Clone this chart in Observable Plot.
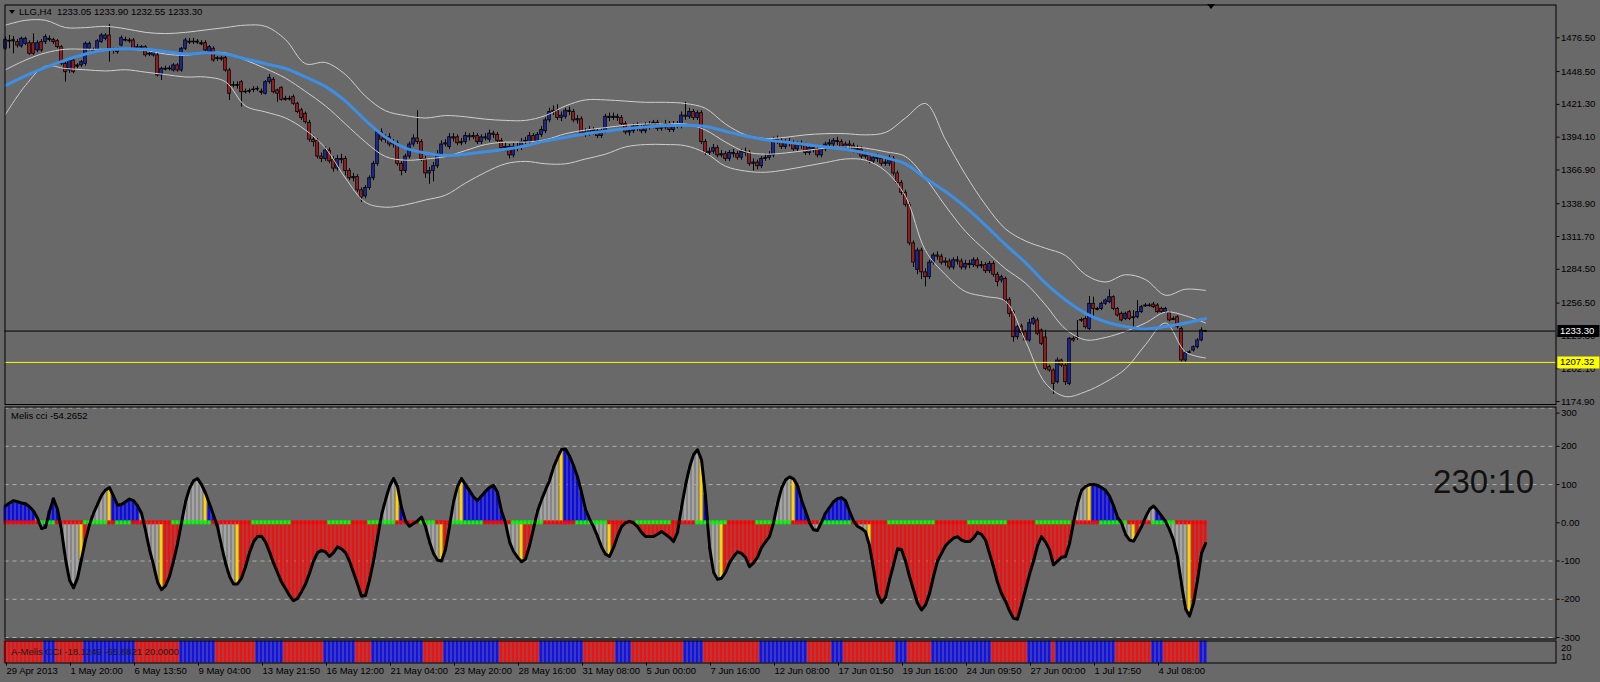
<!DOCTYPE html>
<html><head><meta charset="utf-8">
<script src="https://cdn.jsdelivr.net/npm/d3@7"></script>
<script src="https://cdn.jsdelivr.net/npm/@observablehq/plot@0.6"></script>
<style>
html,body{margin:0;padding:0;background:#696969;}
#wrap{position:relative;width:1600px;height:682px;background:#696969;overflow:hidden;font-family:"Liberation Sans",Arial,sans-serif;}
#wrap svg{position:absolute;left:0;}
#title{position:absolute;left:9px;top:5px;font-size:9.5px;color:#000;white-space:pre;line-height:14px;}
#title .tri{display:inline-block;width:0;height:0;border-left:3.5px solid transparent;border-right:3.5px solid transparent;border-top:4px solid #000;margin-right:4px;vertical-align:1px;}
#shift{position:absolute;left:1207px;top:4px;width:0;height:0;border-left:4px solid transparent;border-right:4px solid transparent;border-top:5px solid #000;}
</style></head><body><div id="wrap"><div id="title"><span class="tri"></span>LLG,H4  1233.05 1233.90 1232.55 1233.30</div><div id="shift"></div></div>
<script>
// ---------- DATA ----------
const open = [1467.4,1473.5,1474.5,1472.9,1469.3,1471.5,1472,1472,1466,1472.9,
1472.9,1475.7,1474.8,1473.7,1468.8,1454.9,1449.4,1457.7,1453.6,1453.6,
1454.9,1467.4,1466,1466,1472.9,1475.7,1478.4,1466,1466.5,1470.1,
1474.3,1474.3,1474.3,1468.8,1468.8,1468.8,1463.2,1461.9,1461.9,1445.3,
1450.8,1450.5,1449.4,1453.6,1449.4,1467.4,1473.3,1472.9,1473.3,1472,
1472,1464.6,1467.4,1459.1,1459.5,1459.9,1449.4,1437,1437.3,1439.7,
1431.4,1432,1433.2,1434.2,1431.8,1430.1,1439.7,1441.7,1432.8,1435,
1425.9,1425.5,1427.3,1421.8,1416.3,1413.5,1406,1392,1391,1378,
1376,1383,1375,1368,1376,1376,1366,1360,1361,1350,
1345,1352,1360,1372,1398,1392,1394,1388,1389,1372,
1366,1378,1388,1393,1390,1376,1364,1366,1370,1380,
1388,1386,1394,1394,1389,1390,1395,1394,1395,1390,
1394,1392,1397,1396,1391,1385,1386,1379,1386,1385,
1390,1390,1395,1390,1396,1399,1408,1415,1416,1410,
1411,1416,1415,1408,1409,1397,1397,1400,1399,1395,
1399,1411,1410,1411,1410,1405,1398,1399,1403,1402,
1399,1404,1403,1406,1401,1402,1405,1400,1404,1403,
1412,1411,1415,1410,1414,1390,1381,1382,1385,1379,
1380,1376,1381,1380,1377,1382,1381,1372,1373,1370,
1376,1377,1379,1392,1391,1386,1390,1389,1384,1388,
1387,1381,1385,1384,1379,1384,1388,1388,1391,1390,
1385,1388,1387,1383,1384,1378,1379,1374,1377,1376,
1372,1372,1376,1364,1356,1348,1338,1306,1284,1300,
1282,1278,1290,1296,1295,1290,1291,1286,1292,1291,
1286,1289,1288,1292,1287,1288,1283,1289,1280,1275.2,
1276.6,1259.2,1249,1228.2,1237.1,1232.4,1225.5,1239.3,1242.1,1233.8,
1228,1203.4,1200.6,1190.9,1208.9,1204.7,1189.5,1226.9,1228.5,1242.1,
1243.4,1235.1,1255.9,1251.7,1251.7,1255.9,1257.3,1261.4,1251.7,1247.6,
1243.4,1249,1244.8,1244.8,1249,1254.5,1254.2,1255.3,1254.5,1251.7,
1249,1248.2,1243.4,1244.8,1235.1,1208.9,1215.8,1217.2,1219.9,1225.5,
1233.05];
const high = [1477,1478.4,1477.5,1475,1477,1477,1474,1479.8,1474,1475,
1479,1478,1476,1475,1470,1456,1459,1459,1455,1457.7,
1473,1473,1468,1475,1480,1480,1487.6,1468,1468,1478,
1477,1476,1475.7,1471,1470,1470,1465,1466,1464,1452,
1453,1453,1455,1455,1468.5,1476,1476,1476,1475,1474,
1474,1470,1469,1461,1461,1461,1451,1440,1440,1441,
1434,1434,1436,1436,1434,1441,1446,1443.5,1434,1436,
1428,1428,1429,1423,1418,1415,1408,1395,1393,1381,
1386,1385,1378,1379,1380,1378,1368,1364,1363,1352,
1354,1362,1374,1400,1401,1396,1397,1392,1391,1374,
1380,1390,1396,1416,1392,1378,1369,1373,1383,1391,
1392,1397,1397,1396,1393,1398,1397,1398,1397,1396,
1397,1400,1399,1398,1393,1389,1388,1389,1389,1393,
1394,1398,1397,1398,1403,1410,1418,1420,1421,1415,
1418,1419,1417,1412,1411,1401,1403,1402,1401,1401,
1413,1414,1414,1413,1412,1407,1402,1405,1406,1404,
1406,1407,1408,1408,1405,1408,1407,1407,1407,1415,
1423,1418,1417,1416,1416,1392,1385,1388,1387,1383,
1382,1383,1384,1382,1384,1385,1383,1376,1375,1378,
1380,1382,1394,1395,1393,1392,1393,1391,1390,1391,
1389,1387,1388,1386,1386,1390,1392,1393,1394,1392,
1390,1391,1389,1387,1386,1382,1381,1379,1380,1378,
1376,1379,1378,1366,1358,1350,1340,1308,1302,1302,
1285,1292,1298,1299,1297,1294,1293,1294,1295,1293,
1292,1292,1294,1294,1291,1290,1291,1291,1282,1279.5,
1278,1261,1250.5,1238,1239,1234,1243,1245,1244,1235,
1234,1205,1202,1211,1210,1206,1228,1228.5,1242.1,1244,
1245,1262,1261.4,1253,1257.3,1260,1267.5,1262.5,1253,1249,
1249,1250.3,1250.3,1258.6,1254.5,1256,1256,1257,1256,1253,
1253,1249.5,1245,1246,1236.5,1216.5,1217,1221,1227,1236,
1233.9];
const low = [1466,1467.4,1463.2,1468,1468,1470,1462,1461.9,1464,1464.6,
1471,1473,1471,1467.4,1453.6,1439.7,1447,1446.6,1451,1452,
1453,1466,1464,1465,1472,1474,1456.3,1463,1463,1469,
1473,1472,1466,1467,1467,1460.5,1461,1460.5,1444,1441.1,
1449,1449,1448,1448,1448,1466,1471,1471,1471,1470,
1465,1463,1456.3,1457,1457,1448,1424.5,1435,1434,1419,
1430,1430,1431,1432,1429,1429,1438,1430,1423,1424,
1424,1424,1420.5,1413.5,1408,1405,1390,1386,1376,1373,
1374,1372,1365,1366,1372,1362,1358,1357,1348,1340,
1343,1350,1358,1370,1390,1389,1386,1385,1370,1362,
1364,1376,1386,1388,1374,1360,1355,1357,1368,1378,
1386,1384,1390,1387,1387,1388,1391,1392,1388,1388,
1391,1390,1393,1389,1382,1382,1376,1377,1382,1383,
1388,1388,1388,1388,1394,1397,1406,1412,1408,1407,
1409,1412,1406,1405,1395,1394,1395,1396,1393,1393,
1397,1407,1408,1407,1403,1396,1395,1397,1399,1397,
1397,1400,1401,1399,1399,1400,1398,1398,1401,1401,
1408,1409,1408,1408,1388,1379,1378,1380,1377,1377,
1374,1374,1377,1375,1375,1378,1370,1366,1367,1368,
1374,1375,1377,1388,1384,1384,1386,1382,1382,1384,
1379,1379,1381,1377,1377,1382,1386,1386,1387,1383,
1383,1384,1381,1380,1376,1376,1372,1372,1373,1370,
1370,1370,1362,1354,1346,1336,1304,1286,1280,1276,
1270,1276,1288,1292,1288,1287,1284,1284,1288,1284,
1284,1285,1286,1285,1285,1281,1281,1278,1270,1273,
1257,1244.8,1224.1,1226,1230,1224,1224,1238,1229.5,1221.3,
1200.6,1199.2,1180.7,1189.5,1203,1188.2,1188,1224,1225.5,1240.5,
1235,1233.8,1244.8,1250,1250.3,1254.5,1256,1250.3,1245,1241,
1242,1242,1236.5,1243.5,1248,1253,1253,1252,1248,1248,
1248,1241,1242,1235,1207.5,1207.5,1214.5,1216,1218.5,1224.5,
1232.55];
const close = [1474.8,1474,1474,1470.1,1475.7,1475.7,1463.2,1463.2,1472,1466,
1477.1,1475.2,1472.9,1468.8,1454.9,1448,1457.7,1448,1453,1456.3,
1471.5,1471.5,1466.5,1473.7,1478.4,1478.4,1466,1466.5,1464.6,1476.2,
1474.8,1474,1467.4,1468.5,1468.4,1461.9,1463,1464.6,1445.3,1450.8,
1450.5,1451,1453.6,1449.4,1467.4,1474.3,1472.9,1473.3,1472.9,1471.5,
1466,1468.8,1457.7,1459.5,1459,1449.4,1430.1,1437.3,1437,1431.4,
1431.8,1432.3,1433.6,1434,1431.4,1439.7,1443.3,1431.4,1430.1,1425,
1425.5,1425.9,1421.8,1414.9,1410,1406.5,1392,1390,1378,1376,
1383,1374,1368,1376,1375,1366,1360,1361,1350,1344,
1352,1360,1372,1398,1392,1393,1388,1389,1372,1366,
1378,1388,1393,1390,1376,1364,1366,1370,1380,1388,
1389,1394,1393,1389,1390,1395,1394,1395,1390,1394,
1393,1397,1396,1391,1385,1386,1379,1386,1385,1390,
1391,1395,1390,1396,1400,1408,1415,1416,1410,1412,
1416,1415,1408,1409,1397,1398,1400,1399,1395,1399,
1411,1410,1411,1410,1405,1398,1399,1403,1402,1399,
1404,1403,1406,1401,1402,1405,1400,1404,1403,1412,
1411,1415,1410,1414,1390,1381,1382,1385,1379,1380,
1376,1381,1380,1377,1382,1381,1372,1373,1370,1376,
1377,1379,1392,1391,1386,1390,1389,1384,1388,1387,
1381,1385,1384,1379,1384,1388,1389,1391,1390,1385,
1388,1387,1383,1384,1378,1379,1374,1377,1376,1372,
1373,1376,1364,1356,1348,1338,1306,1290,1300,1282,
1278,1290,1296,1295,1290,1291,1286,1292,1291,1286,
1289,1288,1292,1287,1288,1283,1289,1280,1274,1278,
1258.6,1247.6,1228.2,1236.5,1231.6,1225.5,1239.8,1243.4,1231,1222.7,
1202,1200.6,1189.5,1208.9,1204.7,1190.9,1226.9,1225.5,1228,1242.5,
1236.5,1255.9,1251.7,1251.3,1255.9,1258.6,1261.4,1251.7,1246.2,1242.1,
1247.6,1243.4,1244.5,1249,1253.1,1254.2,1254.5,1253.1,1249,1249,
1251.7,1242.1,1243,1236.5,1208.9,1215,1215.5,1219.9,1225.5,1233.8,
1233.3];

// Bollinger bands (upper / middle / lower) and blue moving average, read every 5 bars
const bandBars = [0,5,10,15,20,25,30,35,40,45,50,55,60,65,70,75,80,85,90,95,100,105,110,115,120,125,130,135,140,145,150,155,160,165,170,175,180,185,190,195,200,205,210,215,220,225,230,235,240,245,250,255,260,265,270,275,280,285,290,295,300];
const bbUpper = [1487,1491,1491,1485,1485,1486,1484,1481,1480,1481,1483,1485,1487,1486,1475,1455,1456,1446,1428,1416,1412,1410,1412,1411,1409,1408,1408,1412,1420,1425,1425,1424,1423,1423,1422,1418,1405,1396,1393,1394,1396,1397,1397,1396,1398,1410,1422,1392,1363,1338,1318,1308,1302,1296,1280,1274,1280,1276,1263,1268,1267];
const bbMiddle = [1450,1458,1464,1467,1467,1467,1467,1466,1463,1462,1464,1464,1458,1451,1443,1432,1420,1405,1390,1378,1375,1376,1378,1383,1388,1390,1390,1392,1397,1400,1402,1404,1405,1405,1405,1400,1390,1382,1380,1381,1383,1385,1386,1385,1382,1378,1360,1337,1316,1300,1285,1273,1255,1235,1226,1228,1233,1240,1249,1246,1240];
const bbLower = [1413,1437,1453,1451,1450,1449,1450,1448,1446,1444,1444,1440,1420,1415,1410,1400,1385,1360,1340,1336,1338,1342,1346,1356,1365,1372,1374,1372,1372,1376,1380,1386,1388,1388,1387,1381,1370,1366,1365,1367,1370,1373,1376,1375,1366,1345,1300,1280,1266,1262,1258,1225,1190,1179,1183,1191,1202,1222,1240,1216,1211];
const maLine = [1437,1445,1452,1458,1463,1466.5,1467.5,1467,1465,1463,1464,1463,1459,1455,1451,1444,1436,1424,1408,1394,1385,1381,1379,1380,1382,1384,1387,1391,1394,1397,1399,1401,1402.5,1403.5,1404,1403,1399,1395,1392,1390,1388,1386,1384,1381,1377,1372,1360,1349,1336,1321,1305,1290,1273,1259,1248,1241,1237,1235,1237,1240,1243.5];

const bidPrice = 1233.30;
const alertPrice = 1207.32;
const priceTicks = [1476.5,1448.5,1421.3,1394.1,1366.9,1338.9,1311.7,1284.5,1256.5,1229.3,1202.1,1174.9];

// Melis CCI
const cci = [44,52,58,55,52,50,42,31,12,-15,
-12,30,63,35,-20,-95,-150,-170,-145,-95,
-45,-5,25,48,72,86,92,70,46,48,
55,62,58,45,25,-20,-70,-110,-155,-175,
-165,-140,-100,-55,0,55,90,110,116,100,
78,50,20,-10,-60,-105,-140,-160,-160,-145,
-115,-78,-50,-36,-35,-50,-76,-105,-130,-155,
-172,-190,-204,-198,-180,-160,-132,-100,-78,-72,
-76,-88,-78,-63,-68,-78,-100,-130,-160,-192,
-190,-150,-100,-40,20,60,95,116,95,40,
5,-9,-2,5,15,-10,-50,-80,-98,-100,
-70,-10,55,95,116,100,84,68,58,70,
82,92,98,80,30,0,-50,-75,-90,-102,
-95,-60,-15,30,60,86,110,145,170,192,
193,175,150,120,80,35,10,-10,-35,-63,
-82,-88,-65,-35,-10,0,4,0,-10,-25,
-36,-36,-36,-30,-23,-30,-38,-49,-25,40,
98,145,178,191,165,71,-63,-129,-148,-145,
-130,-105,-88,-76,-80,-90,-115,-105,-90,-65,
-50,-36,0,50,90,112,120,115,98,60,
30,0,-18,-20,2,25,40,55,63,66,
58,30,5,-9,-15,-23,-60,-120,-185,-209,
-195,-150,-110,-68,-70,-100,-140,-175,-210,-228,
-215,-185,-140,-100,-80,-60,-49,-40,-36,-45,
-49,-49,-40,-25,-30,-45,-80,-115,-155,-185,
-205,-230,-250,-252,-215,-175,-135,-100,-60,-36,
-50,-70,-110,-100,-90,-88,-55,0,50,85,
95,100,100,98,92,85,70,45,15,0,
-30,-45,-48,-30,-10,15,35,44,32,18,
4,-18,-45,-90,-160,-225,-244,-210,-150,-80,
-54];
// histogram colour runs: B blue, R red, G grey, Y yellow
const histRuns = [["B",8],["G",2],["B",4],["G",5],["Y",1],["R",2],["G",4],["Y",1],["B",7],["G",5],["Y",1],["R",5],["G",5],["Y",1],["B",3],["G",4],["Y",1],["R",35],["G",4],["Y",1],["B",2],["R",1],["G",7],["Y",1],["R",2],["G",2],["Y",1],["B",10],["G",4],["Y",1],["R",3],["G",6],["Y",1],["B",7],["G",4],["Y",1],["R",3],["G",3],["R",11],["G",5],["Y",1],["B",1],["G",3],["Y",1],["R",12],["G",5],["Y",1],["B",3],["G",4],["B",7],["G",4],["Y",1],["R",50],["G",4],["Y",1],["B",7],["G",3],["Y",1],["R",1],["G",4],["B",3],["G",5],["Y",1],["R",4]];
// zero-line signal dots: R red, L lime
const dotRuns = [["R",9],["L",4],["R",7],["L",6],["R",2],["L",4],["R",10],["L",10],["R",10],["L",10],["R",9],["L",6],["R",4],["L",7],["R",1],
["R",5],["L",4],["R",4],["L",8],["R",7],["L",8],["R",8],["L",8],["R",7],["L",9],["R",6],["L",8],["R",7],["L",9],["R",7],["L",8],["R",9],["L",12],["R",8],["L",10],["R",7],["L",9],["R",7],["L",7],["R",6],["L",6],["R",8]];
const cciLevels = [300,200,100,-100,-200,-300];
const cciTicks = [200,100,0,-100,-200,-300];
const cciTopTick = [300];

// A-Melis CCI strip: R red, B blue
const stripRuns = [["R",10],["B",3],["R",7],["B",13],["R",11],["B",9],["R",10],["B",7],["R",10],["B",8],["R",4],["B",13],["R",5],["B",14],["R",10],["B",11],["R",8],["B",4],["R",13],["B",5],["R",14],["B",12],["R",6],["B",3],["R",13],["B",3],["R",6],["B",15],["R",9],["B",6],["R",1],["B",15],["R",9],["B",3],["R",9],["B",2]];
const stripTicks = [20,10];

const dateBars = [0,16,32,48,64,80,96,112,128,144,160,176,192,208,224,240,256,272,288];
const dateLabels = ["29 Apr 2013","1 May 20:00","6 May 13:50","9 May 04:00","13 May 21:50","16 May 12:00","21 May 04:00","23 May 20:00","28 May 16:00","31 May 08:00","5 Jun 00:00","7 Jun 16:00","12 Jun 08:00","17 Jun 01:50","19 Jun 16:00","24 Jun 09:50","27 Jun 00:00","1 Jul 17:50","4 Jul 08:00"];

// ---------- BUILD ----------
const expand = runs => runs.flatMap(([k, n]) => Array(n).fill(k));
const histCodes = expand(histRuns), dotCodes = expand(dotRuns), stripCodes = expand(stripRuns);
const bars = close.map((c, i) => ({i, o: open[i], h: high[i], l: low[i], c}));
const dojis = bars.filter(d => Math.abs(d.c - d.o) < 0.6);
const bands = bandBars.map((b, k) => ({i: b, up: bbUpper[k], mid: bbMiddle[k], lo: bbLower[k], ma: maLine[k]}));
const cciData = cci.map((v, i) => ({i, v, h: histCodes[i], d: dotCodes[i], s: stripCodes[i]}));

const histColor = {B: "#0a0af0", R: "#f01010", G: "#a4a4a4", Y: "#ffd200"};
const dotColor = {R: "#ff0000", L: "#00ff00"};
const stripColor = {R: "#f41010", B: "#1010f0"};
const bull = "#2030b0", bear = "#b42424";

const xDomain = [-0.125, 387.625];
const common = {width: 1600, marginLeft: 4.5, marginRight: 44.5,
  style: {background: "transparent", fontFamily: "Liberation Sans, Arial, sans-serif", fontSize: "9.5px", color: "#000", overflow: "visible"}};

const mainPlot = Plot.plot({
  ...common, height: 406, marginTop: 4.5, marginBottom: 2,
  x: {domain: xDomain, axis: null, label: null},
  y: {domain: [1172.4, 1503.7], axis: null, label: null},
  marks: [
    Plot.ruleX(bars, {x: "i", y1: "l", y2: "h", stroke: "#000", strokeWidth: 1}),
    Plot.rect(bars, {x1: d => d.i - 0.32, x2: d => d.i + 0.32, y1: "o", y2: "c", fill: d => d.c >= d.o ? bull : bear, stroke: "#000", strokeWidth: 0.9}),
    Plot.ruleY(dojis, {y: "c", x1: d => d.i - 0.4, x2: d => d.i + 0.4, stroke: "#000"}),
    Plot.line(bands, {x: "i", y: "up", stroke: "#cfcfcf", strokeWidth: 1, curve: "catmull-rom"}),
    Plot.line(bands, {x: "i", y: "mid", stroke: "#cfcfcf", strokeWidth: 1, curve: "catmull-rom"}),
    Plot.line(bands, {x: "i", y: "lo", stroke: "#cfcfcf", strokeWidth: 1, curve: "catmull-rom"}),
    Plot.line(bands, {x: "i", y: "ma", stroke: "#3d8fe6", strokeWidth: 3, curve: "catmull-rom"}),
    Plot.ruleY([bidPrice], {stroke: "#000", strokeWidth: 1}),
    Plot.ruleY([alertPrice], {stroke: "#ffff00", strokeWidth: 1}),
    Plot.axisY({anchor: "right", label: null, ticks: priceTicks, tickFormat: d => d.toFixed(2), tickSize: 3, tickPadding: 2}),
    Plot.ruleY([bidPrice], {x1: 388.1, x2: 398.6, stroke: "#000", strokeWidth: 12}),
    Plot.text([bidPrice], {x: 388.6, y: d => d, text: d => d.toFixed(2), fill: "#fff", textAnchor: "start"}),
    Plot.ruleY([alertPrice], {x1: 388.1, x2: 398.6, stroke: "#ffff00", strokeWidth: 12}),
    Plot.text([alertPrice], {x: 388.6, y: d => d, text: d => d.toFixed(2), fill: "#000", textAnchor: "start"}),
    Plot.frame({stroke: "#000"})
  ]
});

const cciPlot = Plot.plot({
  ...common, height: 242, marginTop: 6.5, marginBottom: 3.5,
  x: {domain: xDomain, axis: null, label: null},
  y: {domain: [-303.9, 302.9], axis: null, label: null},
  marks: [
    Plot.ruleY(cciLevels, {stroke: "#a9b2a9", strokeDasharray: "4,4", strokeWidth: 1}),
    Plot.rect(cciData, {x1: d => d.i - 0.375, x2: d => d.i + 0.375, y1: 0, y2: "v", fill: d => histColor[d.h]}),
    Plot.rect(cciData, {x1: d => d.i - 0.4, x2: d => d.i + 0.4, y1: -5.2, y2: 5.2, fill: d => dotColor[d.d]}),
    Plot.line(cciData, {x: "i", y: "v", stroke: "#000", strokeWidth: 3, strokeLinejoin: "round"}),
    Plot.axisY({anchor: "right", label: null, ticks: cciTicks, tickFormat: d => d === 0 ? "0.00" : String(d), tickSize: 3, tickPadding: 2}),
    Plot.axisY({anchor: "right", label: null, ticks: cciTopTick, tickFormat: d => String(d), tickSize: 3, tickPadding: 2, dy: 5}),
    Plot.frame({stroke: "#000"}),
    Plot.text(["Melis cci -54.2652"], {frameAnchor: "top-left", dx: 6, dy: 9, textAnchor: "start", lineAnchor: "middle", fill: "#000"}),
    Plot.text(["230:10"], {frameAnchor: "right", dx: -22, dy: -41, textAnchor: "end", lineAnchor: "middle", fontSize: 33, fill: "#111"})
  ]
});

const stripDomain = [2.8, 27.2];
const stripPlot = Plot.plot({
  ...common, height: 46, marginTop: 4.5, marginBottom: 19.5,
  x: {domain: xDomain, axis: null, label: null},
  y: {domain: stripDomain, axis: null, label: null},
  marks: [
    Plot.rect(cciData, {x1: d => d.i - 0.375, x2: d => d.i + 0.375, y1: stripDomain[0], y2: stripDomain[1], fill: d => stripColor[d.s]}),
    Plot.axisY({anchor: "right", label: null, ticks: stripTicks, tickSize: 0, tickPadding: 5}),
    Plot.axisX({anchor: "bottom", label: null, ticks: dateBars, tickFormat: d => dateLabels[dateBars.indexOf(d)], tickSize: 3, tickPadding: 1, textAnchor: "start", dx: 1}),
    Plot.frame({stroke: "#000"}),
    Plot.text(["A-Melis CCI -18.1249 -65.8821 20.0000"], {frameAnchor: "left", dx: 6, textAnchor: "start", fill: "#1a1a1a"})
  ]
});

const wrap = document.getElementById("wrap");
[[mainPlot, 0], [cciPlot, 400], [stripPlot, 636]].forEach(([svg, top]) => {
  svg.style.top = top + "px";
  wrap.appendChild(svg);
});
</script></body></html>
